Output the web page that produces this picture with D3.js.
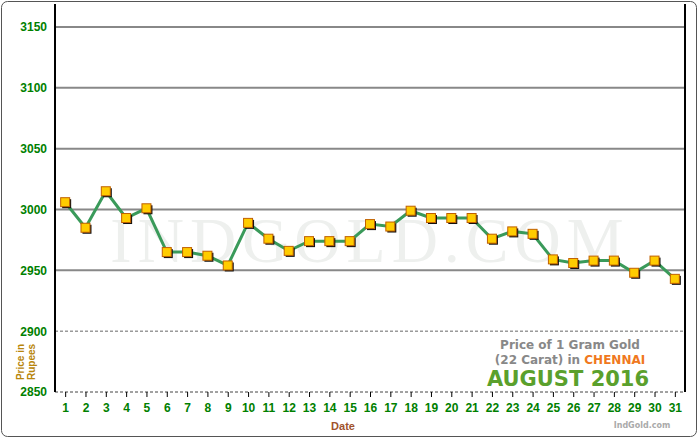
<!DOCTYPE html><html><head><script src="https://cdn.jsdelivr.net/npm/d3@7"></script>
<style>body{margin:0;background:#fff}</style></head><body><svg id="c" width="700" height="440"></svg><script>
const days=d3.range(1,32);
const prices=[3006,2985,3015,2993,3001,2965,2965,2962,2954,2989,2976,2966,2974,2974,2974,2988,2986,2999,2993,2993,2993,2976,2982,2980,2959,2956,2958,2958,2948,2958,2943];
const yTicks=[2850,2900,2950,3000,3050,3100,3150];
const svg=d3.select("#c");
svg.append("rect").attr("x",1.5).attr("y",1.5).attr("width",695).attr("height",435).attr("rx",6).attr("fill","#fff").attr("stroke","#555");
const L=55,R=685,T=27,B=392;
const x=d3.scaleLinear().domain([0.5,31.5]).range([L,R]);
const y=d3.scaleLinear().domain([2850,3150]).range([B,T]);
svg.append("text").attr("x",(L+R)/2).attr("y",262).attr("text-anchor","middle").attr("font-family","Liberation Serif").attr("font-size",64).attr("fill","#eef0ee").attr("letter-spacing",6).text("INDGOLD.COM");
yTicks.slice(1).forEach(t=>{svg.append("line").attr("x1",L).attr("x2",R).attr("y1",y(t)).attr("y2",y(t)).attr("stroke",t==2900?"#666":"#888").attr("stroke-width",t==2900?1:2).attr("stroke-dasharray",t==2900?"3,2":null);});
svg.append("line").attr("x1",L).attr("x2",R).attr("y1",B).attr("y2",B).attr("stroke","#444").attr("stroke-dasharray","3,2");
svg.append("line").attr("x1",L).attr("x2",L).attr("y1",4).attr("y2",B).attr("stroke","#000").attr("stroke-width",2);
svg.append("line").attr("x1",R).attr("x2",R).attr("y1",4).attr("y2",B).attr("stroke","#000").attr("stroke-width",2);
const ya=svg.append("g").attr("transform",`translate(${L},0)`).call(d3.axisLeft(y).tickValues(yTicks).tickFormat(d3.format("d")).tickSize(0).tickPadding(8));
ya.select(".domain").remove();
ya.selectAll("text").attr("fill","#008000").attr("font-weight","bold").attr("font-size",12).attr("font-family","Liberation Sans");
const xa=svg.append("g").attr("transform",`translate(0,${B})`).call(d3.axisBottom(x).tickValues(days).tickSize(5).tickPadding(6));
xa.select(".domain").remove();
xa.selectAll("line").attr("stroke","#000");
xa.selectAll("text").attr("fill","#008000").attr("font-weight","bold").attr("font-size",12).attr("font-family","Liberation Sans");
svg.append("text").attr("x",343).attr("y",430).attr("text-anchor","middle").attr("fill","#a0522d").attr("font-weight","bold").attr("font-size",11).attr("font-family","Liberation Sans").text("Date");
const yt=svg.append("text").attr("transform","translate(24,362) rotate(-90)").attr("text-anchor","middle").attr("fill","#b8860b").attr("font-weight","bold").attr("font-size",10).attr("font-family","Liberation Sans");
yt.append("tspan").attr("x",0).attr("dy",0).text("Price in");
yt.append("tspan").attr("x",0).attr("dy",11).text("Rupees");
svg.append("path").datum(prices).attr("fill","none").attr("stroke","#3a9a5a").attr("stroke-width",3).attr("d",d3.line().x((d,i)=>x(days[i])).y(d=>y(d)));
const g=svg.append("g");
prices.forEach((p,i)=>{
 g.append("rect").attr("x",x(days[i])-3).attr("y",y(p)-3).attr("width",9).attr("height",9).attr("fill","#111");
 g.append("rect").attr("x",x(days[i])-4.5).attr("y",y(p)-4.5).attr("width",9).attr("height",9).attr("fill","#ffcc00").attr("stroke","#c06000").attr("stroke-width",1);
});
const f="Verdana, DejaVu Sans";
svg.append("text").attr("x",570).attr("y",349).attr("text-anchor","middle").attr("font-family",f).attr("font-weight","bold").attr("font-size",12).attr("fill","#888").text("Price of 1 Gram Gold");
const t2=svg.append("text").attr("x",570).attr("y",364).attr("text-anchor","middle").attr("font-family",f).attr("font-weight","bold").attr("font-size",12).attr("fill","#888");
t2.append("tspan").text("(22 Carat) in ");t2.append("tspan").attr("fill","#f07820").text("CHENNAI");
svg.append("text").attr("x",568).attr("y",386).attr("text-anchor","middle").attr("font-family",f).attr("font-weight","bold").attr("font-size",21).attr("fill","#5aa02c").text("AUGUST 2016");
svg.append("text").attr("x",642).attr("y",428).attr("text-anchor","middle").attr("font-family",f).attr("font-weight","bold").attr("font-size",8).attr("fill","#aaa").text("IndGold.com");
</script></body></html>
